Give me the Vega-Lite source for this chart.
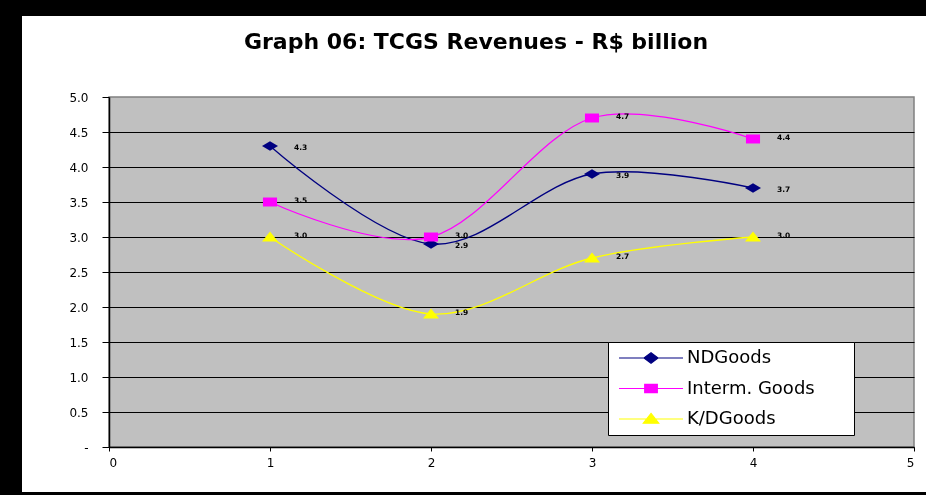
{
  "$schema": "https://vega.github.io/schema/vega-lite/v6.json",
  "width": 904,
  "height": 476,
  "autosize": {"type": "none"},
  "padding": {"left": 22, "top": 16, "right": 0, "bottom": 3},
  "background": "black",
  "title": {
    "text": "Graph 06: TCGS Revenues - R$ billion",
    "font": "DejaVu Sans",
    "fontWeight": "bold",
    "fontSize": 22,
    "color": "black",
    "frame": "group",
    "anchor": "middle",
    "baseline": "middle",
    "offset": -48,
    "dx": 2
  },
  "config": {
    "view": {"fill": "white", "stroke": null},
    "axis": {"labelFont": "DejaVu Sans", "labelFontSize": 12, "labelColor": "black", "title": null}
  },
  "data": {
    "values": [
      {"series": "NDGoods", "x": 1, "value": 4.3},
      {"series": "NDGoods", "x": 2, "value": 2.9},
      {"series": "NDGoods", "x": 3, "value": 3.9},
      {"series": "NDGoods", "x": 4, "value": 3.7},
      {"series": "Interm. Goods", "x": 1, "value": 3.5},
      {"series": "Interm. Goods", "x": 2, "value": 3.0},
      {"series": "Interm. Goods", "x": 3, "value": 4.7},
      {"series": "Interm. Goods", "x": 4, "value": 4.4},
      {"series": "K/DGoods", "x": 1, "value": 3.0},
      {"series": "K/DGoods", "x": 2, "value": 1.9},
      {"series": "K/DGoods", "x": 3, "value": 2.7},
      {"series": "K/DGoods", "x": 4, "value": 3.0}
    ]
  },
  "layer": [
    {
      "mark": {"type": "rect", "fill": "#C0C0C0", "stroke": "#808080", "strokeWidth": 1.5, "blend": "multiply"},
      "transform": [{"filter": "datum.series === 'NDGoods' && datum.x === 1"}],
      "encoding": {
        "x": {"datum": 0, "type": "quantitative", "scale": {"domain": [0, 5], "range": [87, 892], "nice": false, "zero": false},
          "axis": {"values": [0, 1, 2, 3, 4, 5], "format": "d", "offset": -45, "grid": false, "domainColor": "black", "domainWidth": 1.5, "tickColor": "black", "tickSize": 4, "labelPadding": 6}},
        "x2": {"datum": 5},
        "y": {"datum": 0, "type": "quantitative", "scale": {"domain": [0, 5], "range": [431, 81], "nice": false, "zero": false},
          "axis": {"values": [0, 0.5, 1, 1.5, 2, 2.5, 3, 3.5, 4, 4.5, 5], "labelExpr": "datum.value == 0 ? '-' : format(datum.value, '.1f')", "offset": -87, "grid": true,
            "gridColor": {"condition": {"test": "datum.value >= 5", "value": "transparent"}, "value": "black"}, "gridWidth": 1,
            "domainColor": "black", "domainWidth": 1.5, "tickColor": "black", "tickSize": 7, "labelPadding": 14}},
        "y2": {"datum": 5}
      }
    },
    {
      "mark": {"type": "line", "interpolate": "cardinal", "strokeWidth": 1.3},
      "encoding": {
        "x": {"field": "x", "type": "quantitative"},
        "y": {"field": "value", "type": "quantitative"},
        "color": {"field": "series", "type": "nominal",
          "scale": {"domain": ["NDGoods", "Interm. Goods", "K/DGoods"], "range": ["#000080", "#FF00FF", "#FFFF00"]},
          "legend": {
            "orient": "none", "legendX": 586, "legendY": 326, "title": null,
            "fillColor": "white", "strokeColor": "black", "padding": 7,
            "rowPadding": 12.5, "labelFont": "DejaVu Sans", "labelFontSize": 18, "labelColor": "black",
            "symbolSize": 196, "labelOffset": 54, "symbolStrokeWidth": 1.2,
            "encode": {"symbols": {"update": {
              "shape": {"signal": "datum.value === 'NDGoods' ? 'M-0.71,0H8.43M2.86,0L3.86,-0.75L4.86,0L3.86,0.75ZM31.4,0' : datum.value === 'Interm. Goods' ? 'M-0.71,0H8.43M2.96,-0.6H4.76V0.6H2.96ZM31.4,0' : 'M-0.71,0H8.43M3.86,-0.8L4.96,0.6H2.76ZM31.4,0'"},
              "fill": {"signal": "scale('color', datum.value)"},
              "stroke": {"signal": "scale('color', datum.value)"},
              "strokeWidth": {"value": 1.2},
              "opacity": {"value": 1}
            }}}
          }}
      }
    },
    {
      "transform": [{"filter": "datum.series === 'NDGoods'"}],
      "mark": {"type": "point", "filled": true, "opacity": 1, "size": 256, "strokeWidth": 0, "color": "#000080", "shape": "M-1,0L0,-0.6L1,0L0,0.6Z"},
      "encoding": {
        "x": {"field": "x", "type": "quantitative"},
        "y": {"field": "value", "type": "quantitative"}
      }
    },
    {
      "transform": [{"filter": "datum.series === 'Interm. Goods'"}],
      "mark": {"type": "point", "filled": true, "opacity": 1, "size": 256, "strokeWidth": 0, "color": "#FF00FF", "shape": "M-0.88,-0.56H0.88V0.56H-0.88Z"},
      "encoding": {
        "x": {"field": "x", "type": "quantitative"},
        "y": {"field": "value", "type": "quantitative"}
      }
    },
    {
      "transform": [{"filter": "datum.series === 'K/DGoods'"}],
      "mark": {"type": "point", "filled": true, "opacity": 1, "size": 256, "strokeWidth": 0, "color": "#FFFF00", "shape": "M0,-0.7L1,0.55H-1Z"},
      "encoding": {
        "x": {"field": "x", "type": "quantitative"},
        "y": {"field": "value", "type": "quantitative"}
      }
    },
    {
      "transform": [{"filter": "datum.series === 'NDGoods'"}],
      "mark": {"type": "text", "align": "left", "baseline": "middle", "dx": 24, "dy": 2, "font": "DejaVu Sans", "fontWeight": "bold", "fontSize": 7.5, "color": "black"},
      "encoding": {
        "x": {"field": "x", "type": "quantitative"},
        "y": {"field": "value", "type": "quantitative"},
        "text": {"field": "value", "type": "quantitative", "format": ".1f"}
      }
    },
    {
      "transform": [{"filter": "datum.series !== 'NDGoods'"}],
      "mark": {"type": "text", "align": "left", "baseline": "middle", "dx": 24, "dy": -1.5, "font": "DejaVu Sans", "fontWeight": "bold", "fontSize": 7.5, "color": "black"},
      "encoding": {
        "x": {"field": "x", "type": "quantitative"},
        "y": {"field": "value", "type": "quantitative"},
        "text": {"field": "value", "type": "quantitative", "format": ".1f"}
      }
    }
  ]
}
